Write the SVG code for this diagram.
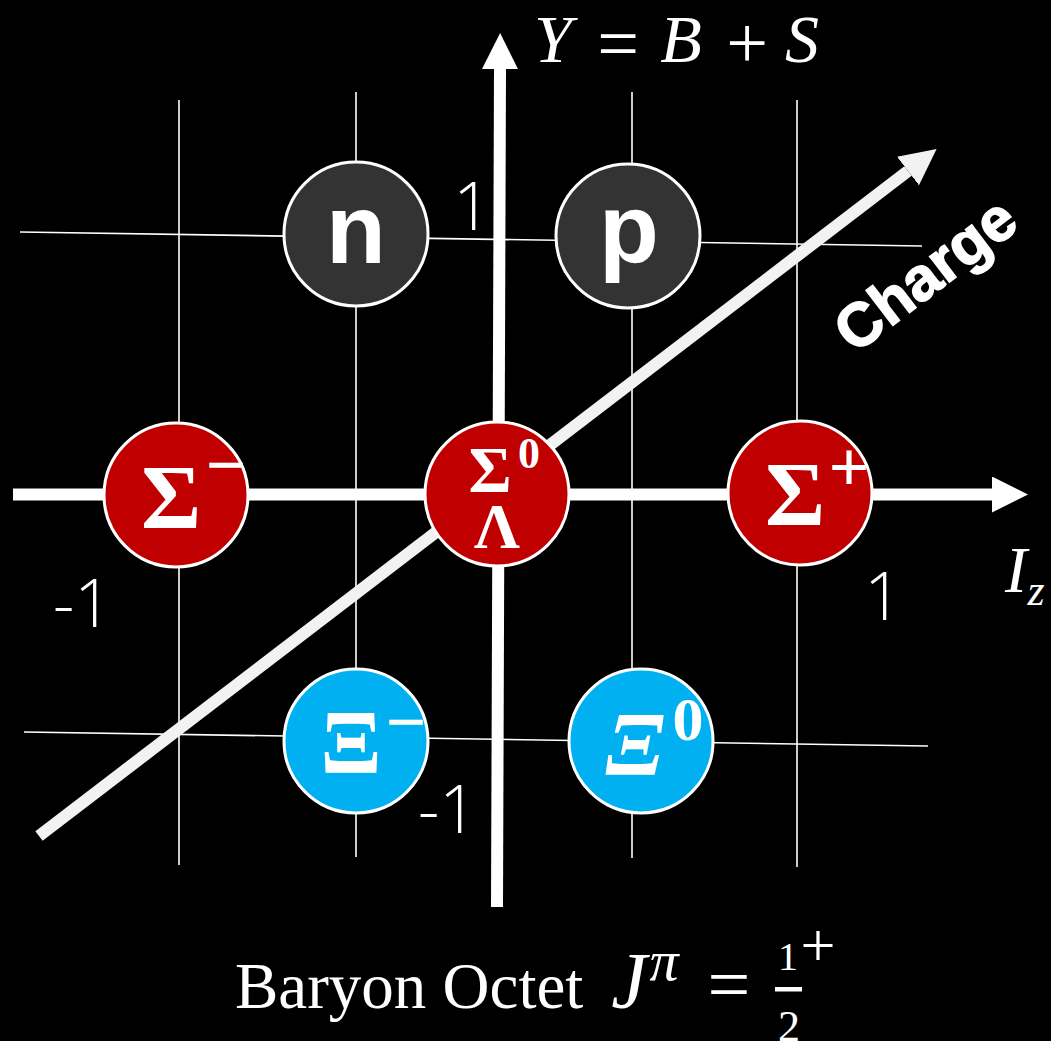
<svg xmlns="http://www.w3.org/2000/svg" width="1051" height="1041" viewBox="0 0 1051 1041">
<defs>
<style>
.grid line{stroke:#ffffff;stroke-width:1.6}
.axis{stroke:#ffffff;stroke-width:12;fill:none}
.diag{stroke:#f2f2f2;stroke-width:12;fill:none}
.node{stroke:#ffffff;stroke-width:3}
.nuc{fill:#333333}
.sig{fill:#c00000}
.xi{fill:#00b0f0}
.lbl{font-family:"Open Sans","Liberation Sans",sans-serif;font-weight:300;fill:#ffffff}
.bold{font-family:"Liberation Sans",Arial,sans-serif;font-weight:bold;fill:#ffffff}
.gr{font-family:"Liberation Serif","Times New Roman",serif;font-weight:bold;fill:#ffffff}
.math{font-family:"Liberation Serif","Times New Roman",serif;fill:#ffffff}
.it{font-style:italic}
</style>
<marker id="ah" markerUnits="userSpaceOnUse" markerWidth="36" markerHeight="36" refX="0" refY="18" orient="auto" viewBox="0 0 36 36">
<path d="M0,0 L36,18 L0,36 Z" fill="#ffffff"/>
</marker>
<marker id="ahd" markerUnits="userSpaceOnUse" markerWidth="36" markerHeight="36" refX="0" refY="18" orient="auto" viewBox="0 0 36 36">
<path d="M0,0 L36,18 L0,36 Z" fill="#f2f2f2"/>
</marker>
</defs>
<rect x="0" y="0" width="1051" height="1041" fill="#000000"/>

<g id="grid" class="grid">
<line x1="179" y1="100" x2="179" y2="865"/>
<line x1="356" y1="92" x2="356" y2="857"/>
<line x1="632" y1="92" x2="632" y2="858"/>
<line x1="797" y1="100" x2="797" y2="867"/>
<line x1="20" y1="232" x2="922" y2="246"/>
<line x1="24" y1="732" x2="928" y2="746"/>
</g>

<g id="connectors">
<line class="axis" x1="13" y1="494.5" x2="992" y2="494.5" marker-end="url(#ah)"/>
<line class="axis" x1="497" y1="907" x2="500" y2="69" marker-end="url(#ah)"/>
<line class="diag" x1="39" y1="836" x2="908" y2="171" marker-end="url(#ahd)"/>
</g>

<g id="node-n">
<circle class="node nuc" cx="356" cy="234" r="72"/>
<text class="bold" x="356" y="263" font-size="98" text-anchor="middle">n</text>
</g>
<g id="node-p">
<circle class="node nuc" cx="628" cy="236" r="72"/>
<text class="bold" x="629" y="263" font-size="98" text-anchor="middle">p</text>
</g>
<g id="node-sigma-minus">
<circle class="node sig" cx="176" cy="495" r="72"/>
<text class="gr" x="171" y="528" font-size="92" text-anchor="middle">Σ</text>
<text class="gr" x="226" y="489" font-size="72" text-anchor="middle">−</text>
</g>
<g id="node-sigma0-lambda">
<circle class="node sig" cx="497" cy="494" r="72"/>
<text class="gr" x="490" y="492" font-size="66" text-anchor="middle">Σ</text>
<text class="gr" x="529" y="468" font-size="44" text-anchor="middle">0</text>
<text class="gr" x="497" y="548" font-size="64" text-anchor="middle">Λ</text>
</g>
<g id="node-sigma-plus">
<circle class="node sig" cx="800" cy="493" r="72"/>
<text class="gr" x="795" y="525" font-size="92" text-anchor="middle">Σ</text>
<text class="gr" x="849" y="491" font-size="72" text-anchor="middle">+</text>
</g>
<g id="node-xi-minus">
<circle class="node xi" cx="356" cy="741" r="72"/>
<text class="gr" x="351" y="773" font-size="90" text-anchor="middle">Ξ</text>
<text class="gr" x="406" y="746" font-size="72" text-anchor="middle">−</text>
</g>
<g id="node-xi0">
<circle class="node xi" cx="641" cy="741" r="72"/>
<text class="gr it" x="635" y="775" font-size="90" text-anchor="middle">Ξ</text>
<text class="gr" x="688" y="740" font-size="62" text-anchor="middle">0</text>
</g>

<g id="labels">
<text class="lbl" x="472" y="230" font-size="66" text-anchor="middle">1</text>
<text class="lbl" x="112" y="627" font-size="66" text-anchor="end">-1</text>
<text class="lbl" x="883" y="620" font-size="66" text-anchor="middle">1</text>
<text class="lbl" x="477" y="833" font-size="66" text-anchor="end">-1</text>

<text class="math it" x="553" y="62" font-size="68" text-anchor="middle">Y</text>
<text class="math" x="618" y="68" font-size="74" text-anchor="middle">=</text>
<text class="math it" x="681" y="62" font-size="68" text-anchor="middle">B</text>
<text class="math" x="747" y="68" font-size="74" text-anchor="middle">+</text>
<text class="math it" x="802" y="62" font-size="68" text-anchor="middle">S</text>

<text class="math it" x="1016" y="592" font-size="66" text-anchor="middle">I</text>
<text class="math it" x="1036" y="605" font-size="44" text-anchor="middle">z</text>

<text class="bold" x="938" y="291" font-size="61" text-anchor="middle" stroke="#ffffff" stroke-width="1.5" transform="rotate(-37.4 938 291)">Charge</text>

<text class="math" x="235" y="1008" font-size="65">Baryon Octet</text>
<text class="math it" x="629" y="1008" font-size="80" text-anchor="middle">J</text>
<text class="math it" x="664" y="980" font-size="58" text-anchor="middle">π</text>
<text class="math" x="729" y="1010" font-size="76" text-anchor="middle">=</text>
<text class="math" x="788" y="970" font-size="40" text-anchor="middle">1</text>
<rect x="775" y="987" width="27" height="4.5" fill="#ffffff"/>
<text class="math" x="789" y="1041" font-size="44" text-anchor="middle">2</text>
<text class="math" x="818" y="966" font-size="62" text-anchor="middle">+</text>
</g>
</svg>
